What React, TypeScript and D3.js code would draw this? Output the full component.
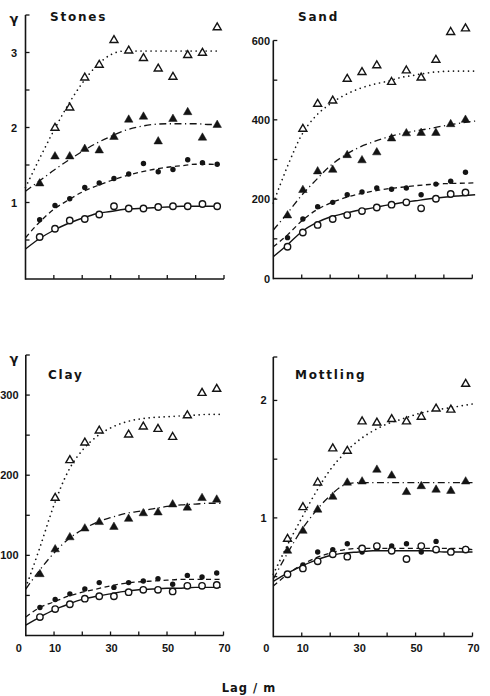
import React from "react";
import * as d3 from "d3";

// ---- data ----
const lags = [5, 10.4, 15.6, 20.9, 26, 31.2, 36.4, 41.6, 46.8, 52, 57.2, 62.4, 67.6];

// Stones
const stonesOpenTri = [null, 2.01, 2.28, 2.68, 2.85, 3.18, 3.04, 2.94, 2.8, 2.69, 2.98, 3.01, 3.35];
const stonesFilledTri = [1.27, 1.63, 1.63, 1.73, 1.71, 1.89, 2.12, 2.16, 1.83, 2.13, 2.22, 1.88, 2.05];
const stonesFilledCirc = [0.77, 0.96, 1.05, 1.2, 1.26, 1.32, 1.38, 1.52, 1.41, 1.44, 1.57, 1.53, 1.51];
const stonesOpenCirc = [0.54, 0.65, 0.76, 0.78, 0.84, 0.95, 0.92, 0.92, 0.94, 0.95, 0.95, 0.98, 0.95];
const stonesCurveX = [0, 5, 10, 15, 20, 25, 30, 35, 40, 45, 50, 55, 60, 65, 68];
const stonesDotted = [1.2, 1.59, 1.96, 2.3, 2.59, 2.82, 2.97, 3.02, 3.02, 3.02, 3.02, 3.02, 3.02, 3.02, 3.02];
const stonesDashDot = [1.15, 1.29, 1.43, 1.56, 1.68, 1.79, 1.88, 1.96, 2.01, 2.04, 2.05, 2.05, 2.05, 2.04, 2.04];
const stonesDashed = [0.53, 0.74, 0.91, 1.03, 1.14, 1.22, 1.29, 1.35, 1.4, 1.44, 1.47, 1.49, 1.51, 1.51, 1.5];
const stonesSolid = [0.38, 0.52, 0.63, 0.72, 0.79, 0.85, 0.88, 0.91, 0.92, 0.93, 0.94, 0.95, 0.95, 0.95, 0.95];

// Sand
const sandOpenTri = [null, 380, 443, 451, 506, 523, 540, 498, 527, 509, 554, 624, 633];
const sandFilledTri = [162, 226, 273, 277, 314, 301, 321, 356, 369, 370, 370, 392, 403];
const sandFilledCirc = [103, 150, 181, 192, 211, 218, 228, 225, 228, 211, 238, 245, 268];
const sandOpenCirc = [80, 116, 135, 150, 160, 170, 179, 186, 192, 177, 201, 213, 217];
const sandCurveX = [0, 5, 10, 15, 20, 25, 30, 35, 40, 45, 50, 55, 60, 65, 71];
const sandDotted = [190, 283, 362, 410, 440, 462, 478, 489, 497, 507, 513, 519, 522, 523, 523];
const sandDashDot = [122, 165, 210, 248, 284, 310, 330, 344, 356, 365, 372, 378, 385, 391, 397];
const sandDashed = [80, 110, 145, 172, 190, 203, 213, 220, 226, 230, 234, 237, 239, 240, 241];
const sandSolid = [55, 85, 118, 140, 155, 164, 172, 178, 185, 191, 196, 201, 205, 208, 211];

// Clay
const clayOpenTri = [null, 173, 220, 242, 257, null, 252, 262, 259, 249, 276, 304, 309];
const clayFilledTri = [78, 109, 124, 135, 143, 137, 147, 154, 155, 165, 161, 173, 171];
const clayFilledCirc = [35, 45, 52, 58, 66, 60, 66, 68, 71, 64, 75, 73, 78];
const clayOpenCirc = [23, 33, 39, 46, 49, 49, 54, 57, 57, 55, 62, 62, 63];
const clayCurveX = [0, 5, 10, 15, 20, 25, 30, 35, 40, 45, 50, 55, 60, 65, 69];
const clayDotted = [60, 110, 163, 205, 231, 248, 259, 266, 270, 272, 273, 274, 275, 276, 276];
const clayDashDot = [58, 82, 103, 120, 132, 141, 147, 152, 155, 158, 161, 163, 164, 165, 165];
const clayDashed = [23, 35, 42, 49, 54, 58, 62, 65, 67, 68, 69, 70, 70, 70, 70];
const claySolid = [13, 23, 32, 39, 45, 49, 52, 55, 57, 58, 59, 59, 60, 60, 60];

// Mottling
const mottOpenTri = [0.83, 1.1, 1.31, 1.6, 1.58, 1.83, 1.82, 1.85, 1.83, 1.87, 1.94, 1.93, 2.15];
const mottFilledTri = [0.73, 0.9, 1.08, 1.19, 1.31, 1.32, 1.42, 1.37, 1.23, 1.28, 1.25, 1.24, 1.32];
const mottFilledCirc = [null, 0.6, 0.71, 0.73, 0.78, 0.71, 0.74, 0.76, 0.78, 0.71, 0.8, 0.72, 0.74];
const mottOpenCirc = [0.52, 0.57, 0.63, 0.69, 0.67, 0.74, 0.76, 0.72, 0.65, 0.76, 0.73, 0.71, 0.73];
const mottCurveX = [0, 5, 10, 15, 20, 25, 30, 35, 40, 45, 50, 55, 60, 65, 70];
const mottDotted = [0.52, 0.77, 1.0, 1.22, 1.41, 1.55, 1.66, 1.74, 1.8, 1.84, 1.88, 1.91, 1.93, 1.95, 1.97];
const mottDashDot = [0.48, 0.7, 0.9, 1.06, 1.19, 1.28, 1.3, 1.3, 1.3, 1.3, 1.3, 1.3, 1.3, 1.3, 1.3];
const mottDashed = [0.42, 0.52, 0.6, 0.66, 0.7, 0.73, 0.74, 0.74, 0.74, 0.74, 0.74, 0.74, 0.74, 0.74, 0.73];
const mottSolid = [0.46, 0.53, 0.59, 0.64, 0.68, 0.7, 0.71, 0.72, 0.72, 0.72, 0.72, 0.72, 0.71, 0.71, 0.71];

// ticks
const xTicks = [10, 20, 30, 40, 50, 60, 70];
const xTickLabels = [0, 10, 30, 50, 70];
const stonesYTicks = [0.5, 1, 1.5, 2, 2.5, 3, 3.5];
const stonesYLabels = [1, 2, 3];
const sandYTicks = [100, 200, 300, 400, 500, 600];
const sandYLabels = [0, 200, 400, 600];
const clayYTicks = [50, 100, 150, 200, 250, 300, 350];
const clayYLabels = [100, 200, 300];
const mottYTicks = [0.5, 1, 1.5, 2, 2.37];
const mottYLabels = [1, 2];

// ---- layout ----
const INK = "#141414";
const panels = [
  {
    title: "Stones", titleX: 50, titleY: 20.5, gamma: true, xLabels: false,
    xr: [25.5, 224], yd: [-0.02, 3.5], yr: [279, 15], labelX: 17,
    yTicks: stonesYTicks, yLabels: stonesYLabels,
    points: [stonesOpenTri, stonesFilledTri, stonesFilledCirc, stonesOpenCirc],
    cx: stonesCurveX, curves: [stonesDotted, stonesDashDot, stonesDashed, stonesSolid],
  },
  {
    title: "Sand", titleX: 298, titleY: 20.5, gamma: false, xLabels: false,
    xr: [273.3, 472.3], yd: [0, 600], yr: [278.5, 40.5], labelX: 270,
    yTicks: sandYTicks, yLabels: sandYLabels,
    points: [sandOpenTri, sandFilledTri, sandFilledCirc, sandOpenCirc],
    cx: sandCurveX, curves: [sandDotted, sandDashDot, sandDashed, sandSolid],
  },
  {
    title: "Clay", titleX: 48, titleY: 379, gamma: true, xLabels: true,
    xr: [25.8, 223.5], yd: [0, 350], yr: [635.5, 355], labelX: 18.5,
    yTicks: clayYTicks, yLabels: clayYLabels,
    points: [clayOpenTri, clayFilledTri, clayFilledCirc, clayOpenCirc],
    cx: clayCurveX, curves: [clayDotted, clayDashDot, clayDashed, claySolid],
  },
  {
    title: "Mottling", titleX: 295, titleY: 379, gamma: false, xLabels: true,
    xr: [273.3, 472.5], yd: [-0.01, 2.37], yr: [636.5, 357], labelX: 266.5,
    yTicks: mottYTicks, yLabels: mottYLabels,
    points: [mottOpenTri, mottFilledTri, mottFilledCirc, mottOpenCirc],
    cx: mottCurveX, curves: [mottDotted, mottDashDot, mottDashed, mottSolid],
  },
];

const markerKinds = ["openTri", "filledTri", "filledCirc", "openCirc"];
const curveStyles = [
  { dash: "0.01 5", width: 1.7, cap: "round" },
  { dash: "7 3.5 1.2 3.5", width: 1.3, cap: "butt" },
  { dash: "5 3.5", width: 1.3, cap: "butt" },
  { dash: "none", width: 1.4, cap: "butt" },
];

function triPath(s: number) {
  const h = s * 0.866;
  return `M0,${-h / 2}L${s / 2},${h / 2}L${-s / 2},${h / 2}Z`;
}

function Marker({ kind, x, y }: { kind: string; x: number; y: number }) {
  if (kind === "openTri")
    return <path d={triPath(8)} transform={`translate(${x},${y})`} fill="#fff" stroke={INK} strokeWidth={1.4} strokeLinejoin="miter" />;
  if (kind === "filledTri")
    return <path d={triPath(8.5)} transform={`translate(${x},${y})`} fill={INK} stroke={INK} strokeWidth={0.5} />;
  if (kind === "filledCirc") return <circle cx={x} cy={y} r={2.7} fill={INK} />;
  return <circle cx={x} cy={y} r={3.2} fill="#fff" stroke={INK} strokeWidth={1.4} />;
}

function Panel({ p }: { p: any }) {
  const x = d3.scaleLinear().domain([0, 70]).range(p.xr);
  const y = d3.scaleLinear().domain(p.yd).range(p.yr);
  const line = d3
    .line<number>()
    .x((_, i) => x(p.cx[i]))
    .y((v) => y(v))
    .curve(d3.curveMonotoneX);
  const x0 = p.xr[0];
  const yBottom = p.yr[0];
  const yTop = p.yr[1];
  const tickFont = { fontFamily: "'Liberation Sans', Arial, sans-serif", fontWeight: 700, fontSize: 11 };
  return (
    <g>
      {/* curves */}
      {p.curves.map((c: number[], i: number) => (
        <path
          key={"c" + i}
          d={line(c) || ""}
          fill="none"
          stroke={INK}
          strokeWidth={curveStyles[i].width}
          strokeDasharray={curveStyles[i].dash}
          strokeLinecap={curveStyles[i].cap as any}
        />
      ))}
      {/* points */}
      {p.points.map((arr: (number | null)[], si: number) =>
        arr.map((v, i) =>
          v == null ? null : <Marker key={`m${si}-${i}`} kind={markerKinds[si]} x={x(lags[i])} y={y(v)} />
        )
      )}
      {/* axes */}
      <line x1={x0} x2={x0} y1={yTop} y2={yBottom + 0.8} stroke={INK} strokeWidth={1.6} />
      <line x1={x0} x2={p.xr[1]} y1={yBottom} y2={yBottom} stroke={INK} strokeWidth={1.6} />
      {xTicks.map((t) => (
        <line key={"xt" + t} x1={x(t)} x2={x(t)} y1={yBottom} y2={yBottom - 4} stroke={INK} strokeWidth={1.3} />
      ))}
      {p.yTicks.map((t: number) => (
        <line key={"yt" + t} x1={x0} x2={x0 + 4} y1={y(t)} y2={y(t)} stroke={INK} strokeWidth={1.3} />
      ))}
      {p.yLabels.map((t: number) => (
        <text key={"yl" + t} x={p.labelX} y={y(t) + 4} textAnchor="end" fill={INK} {...tickFont}>
          {t}
        </text>
      ))}
      {p.xLabels &&
        xTickLabels.map((t) => (
          <text key={"xl" + t} x={t === 0 ? x(0) - 7 : x(t) + 1} y={652} textAnchor="middle" fill={INK} {...tickFont}>
            {t}
          </text>
        ))}
      {p.gamma && (
        <text x={14} y={yTop + 8} textAnchor="middle" fill={INK} fontFamily="'DejaVu Sans', sans-serif" fontWeight={700} fontSize={13}>
          γ
        </text>
      )}
      <text
        x={p.titleX}
        y={p.titleY}
        fill={INK}
        fontFamily="'DejaVu Sans', sans-serif"
        fontWeight={700}
        fontSize={12}
        letterSpacing={1.8}
      >
        {p.title}
      </text>
    </g>
  );
}

export default function App() {
  return (
    <svg
      width={490}
      height={696}
      viewBox="0 0 490 696"
      style={{ position: "absolute", left: 0, top: 0, background: "#fff" }}
    >
      <rect width={490} height={696} fill="#fff" />
      {panels.map((p) => (
        <Panel key={p.title} p={p} />
      ))}
      <text
        x={249}
        y={692}
        textAnchor="middle"
        fill={INK}
        fontFamily="'DejaVu Sans', sans-serif"
        fontWeight={700}
        fontSize={11.5}
        letterSpacing={1}
      >
        Lag / m
      </text>
    </svg>
  );
}
